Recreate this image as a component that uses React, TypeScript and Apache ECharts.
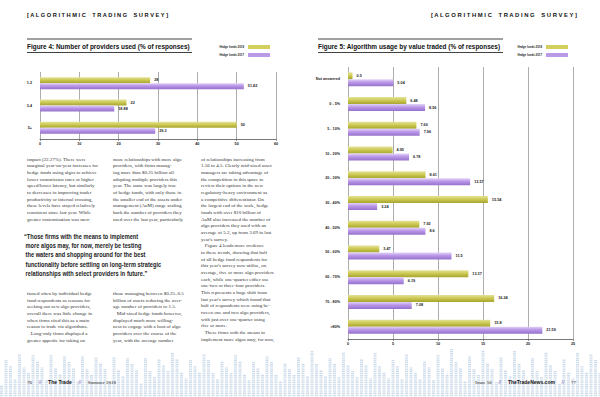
import React, { useEffect, useRef } from "react";
import * as echarts from "echarts";

const fig4Categories = ["1-2", "3-4", "5+"];
const fig4Labels2018 = ["28", "22", "50"];
const fig4Labels2017 = ["51.82", "18.88", "29.3"];
const fig4Ticks = [0, 60, 10];

const fig5Categories = [
  "Not answered", "0 - 5%", "5 - 10%", "10 - 20%", "20 - 30%", "30 - 40%",
  "40 - 50%", "50 - 60%", "60 - 70%", "70 - 80%", ">80%",
];
const fig5Labels2018 = ["0.5", "6.48", "7.60", "4.95", "8.61", "15.54", "7.92", "3.47", "13.37", "16.24", "15.8"];
const fig5Labels2017 = ["5.04", "8.56", "7.96", "6.78", "13.57", "3.24", "8.6", "11.5", "6.19", "7.08", "21.59"];
const fig5Ticks = [0, 25, 5];

const seriesNames = ["Hedge funds 2018", "Hedge funds 2017"];

const col1Top = `impact (22.27%). There were
marginal year-on-year increases for
hedge funds using algos to achieve
lower commission rates or higher
speed/lower latency, but similarly
to decreases in improving trader
productivity or internal crossing,
these levels have stayed relatively
consistent since last year. While
greater customisation was men-`;

const col2Top = `more relationships with more algo
providers, with firms manag-
ing more than $0.25 billion all
adopting multiple providers this
year. The same was largely true
of hedge funds, with only those in
the smaller end of the assets under
management (AuM) range scaling
back the number of providers they
used over the last year, particularly`;

const col3 = `of relationships increasing from
1.56 to 4.5. Clearly mid-sized asset
managers are taking advantage of
the competition in this space to
review their options in the new
regulatory-heavy environment as
a competitive differentiator. On
the largest end of the scale, hedge
funds with over $10 billion of
AuM also increased the number of
algo providers they used with an
average of 5.2, up from 3.69 in last
year's survey.
   Figure 4 lends more credence
to these trends, showing that half
of all hedge fund respondents for
this year's survey now utilise, on
average, five or more algo providers
each, while one-quarter either use
one-two or three-four providers.
This represents a huge shift from
last year's survey which found that
half of respondents were using be-
tween one and two algo providers,
with just over one-quarter using
five or more.
   These firms with the means to
implement more algos may, for now,`;

const quote = `\u201CThose firms with the means to implement
 more algos may, for now, merely be testing
 the waters and shopping around for the best
 functionality before settling on long-term strategic
 relationships with select providers in future.\u201D`;

const col1Bottom = `tioned often by individual hedge
fund respondents as reasons for
seeking out new algo providers,
overall there was little change in
when firms cited this as a main
reason to trade via algorithms.
   Long-only firms displayed a
greater appetite for taking on`;

const col2Bottom = `those managing between $0.25\u20130.5
billion of assets reducing the aver-
age number of providers to 1.5.
   Mid-sized hedge funds however,
displayed much more willing-
ness to engage with a host of algo
providers over the course of the
year, with the average number`;

const SANS = "'Liberation Sans', Arial, sans-serif";
const SERIF = "'Liberation Serif', serif";

function yellowGrad() {
  return new echarts.graphic.LinearGradient(0, 0, 0, 1, [
    { offset: 0, color: "#e4e39a" },
    { offset: 0.45, color: "#cdca55" },
    { offset: 1, color: "#a8a52e" },
  ]);
}
function purpleGrad() {
  return new echarts.graphic.LinearGradient(0, 0, 0, 1, [
    { offset: 0, color: "#e2d2f8" },
    { offset: 0.45, color: "#b996e8" },
    { offset: 1, color: "#9571cc" },
  ]);
}

function barSeries(name: string, labels: string[], axis: number, color: any, width: number) {
  return {
    type: "bar",
    name,
    xAxisIndex: axis,
    yAxisIndex: axis,
    data: labels.map((s) => parseFloat(s)),
    barWidth: width,
    barGap: "0%",
    itemStyle: { color },
    label: {
      show: true,
      position: "right",
      distance: 4,
      fontSize: 3.8,
      fontWeight: "bold",
      fontFamily: SANS,
      color: "#222",
      formatter: (p: any) => labels[p.dataIndex],
    },
  };
}

function xAxisFor(gridIndex: number, ticks: number[]) {
  return {
    type: "value",
    gridIndex,
    min: ticks[0],
    max: ticks[1],
    interval: ticks[2],
    axisLine: { show: true, lineStyle: { color: "#555", width: 0.8 } },
    axisTick: { show: true, length: 2, lineStyle: { color: "#555", width: 0.6 } },
    axisLabel: { fontSize: 3.8, fontWeight: "bold", fontFamily: SANS, color: "#222", margin: 3 },
    splitLine: { show: true, lineStyle: { color: "#8a8a8a", width: 0.7 } },
  };
}

function yAxisFor(gridIndex: number, cats: string[]) {
  return {
    type: "category",
    gridIndex,
    data: cats,
    inverse: true,
    axisLine: { show: false },
    axisTick: { show: false },
    axisLabel: { fontSize: 3.7, fontWeight: "bold", fontFamily: SANS, color: "#222", margin: 8 },
  };
}

function legendBlock(rightX: number, y: number) {
  const els: any[] = [];
  const colors = ["#d2cf5c", "#b99ae6"];
  seriesNames.forEach((n, i) => {
    els.push({
      type: "text",
      x: rightX,
      y: y + i * 8,
      scaleX: 0.8,
      style: { text: n, fontSize: 3.6, fontWeight: "bold", fontFamily: SANS, fill: "#222", align: "right", verticalAlign: "middle" },
    });
    els.push({ type: "rect", shape: { x: rightX + 4, y: y + i * 8 - 2, width: 22, height: 4 }, style: { fill: colors[i] } });
  });
  return els;
}

function bodyText(x: number, y: number, text: string) {
  return {
    type: "text",
    x,
    y,
    style: { text, fontSize: 5, lineHeight: 6.67, fontFamily: SERIF, fill: "#333", verticalAlign: "top" },
  };
}

function patternElements() {
  const els: any[] = [];
  for (let i = 0; i < 134; i++) {
    const h = 12 + ((i * 53) % 31) + ((i * 17) % 7);
    els.push({
      type: "rect",
      shape: { x: i * 4.5, y: 397 - h, width: 3, height: h },
      style: { fill: "#cfdcea" },
      silent: true,
    });
  }
  for (let r = 0; r < 22; r++) {
    els.push({
      type: "rect",
      shape: { x: 0, y: 350 + r * 2.2, width: 600, height: 0.8 },
      style: { fill: "#ffffff" },
      silent: true,
    });
  }
  return els;
}

export default function App() {
  const ref = useRef<HTMLDivElement>(null);
  useEffect(() => {
    if (!ref.current) return;
    const chart = echarts.init(ref.current, undefined, { renderer: "svg" });
    const headerText = "[ A L G O R I T H M I C    T R A D I N G    S U R V E Y ]";
    chart.setOption({
      animation: false,
      backgroundColor: "#ffffff",
      grid: [
        { left: 40, top: 72, width: 236, height: 67 },
        { left: 348, top: 67, width: 225, height: 272 },
      ],
      xAxis: [xAxisFor(0, fig4Ticks), xAxisFor(1, fig5Ticks)],
      yAxis: [yAxisFor(0, fig4Categories), yAxisFor(1, fig5Categories)],
      series: [
        barSeries(seriesNames[0], fig4Labels2018, 0, yellowGrad(), 6),
        barSeries(seriesNames[1], fig4Labels2017, 0, purpleGrad(), 6),
        barSeries(seriesNames[0], fig5Labels2018, 1, yellowGrad(), 7),
        barSeries(seriesNames[1], fig5Labels2017, 1, purpleGrad(), 7),
      ],
      graphic: [
        ...patternElements(),
        { type: "text", x: 27, y: 15, style: { text: headerText, fontSize: 5.7, fontWeight: "bold", fontFamily: SANS, fill: "#111", verticalAlign: "middle" } },
        { type: "text", x: 577, y: 15, style: { text: headerText, fontSize: 5.9, fontWeight: "bold", fontFamily: SANS, fill: "#111", align: "right", verticalAlign: "middle" } },
        { type: "line", shape: { x1: 27, y1: 39, x2: 192, y2: 39 }, style: { stroke: "#111", lineWidth: 0.8 } },
        { type: "line", shape: { x1: 27, y1: 52.5, x2: 192, y2: 52.5 }, style: { stroke: "#111", lineWidth: 0.8 } },
        { type: "text", x: 27, y: 46, scaleX: 0.92, style: { text: "Figure 4: Number of providers used (% of responses)", fontSize: 7, fontWeight: "bold", fontFamily: SANS, fill: "#111", verticalAlign: "middle" } },
        { type: "line", shape: { x1: 318, y1: 39, x2: 503, y2: 39 }, style: { stroke: "#111", lineWidth: 0.8 } },
        { type: "line", shape: { x1: 318, y1: 52.5, x2: 503, y2: 52.5 }, style: { stroke: "#111", lineWidth: 0.8 } },
        { type: "text", x: 318, y: 46, scaleX: 0.92, style: { text: "Figure 5: Algorithm usage by value traded (% of responses)", fontSize: 7, fontWeight: "bold", fontFamily: SANS, fill: "#111", verticalAlign: "middle" } },
        ...legendBlock(244, 47),
        ...legendBlock(542, 47),
        bodyText(27, 155.7, col1Top),
        bodyText(113, 155.7, col2Top),
        bodyText(201, 155.7, col3),
        { type: "text", x: 24, y: 232, scaleX: 0.9, style: { text: quote, fontSize: 6.3, lineHeight: 9.3, fontWeight: "bold", fontFamily: SANS, fill: "#222", verticalAlign: "top" } },
        bodyText(27, 290, col1Bottom),
        bodyText(113, 290, col2Bottom),
        {
          type: "text", x: 27, y: 382,
          style: {
            text: "{n|76}  {s|//}  {b|The Trade}  {s|//}  {n|Summer 2018}",
            verticalAlign: "middle",
            rich: {
              n: { fontSize: 5, fontFamily: SERIF, fill: "#222" },
              s: { fontSize: 5, fontFamily: SANS, fill: "#7a5ab8" },
              b: { fontSize: 5, fontWeight: "bold", fontFamily: SANS, fill: "#111" },
            },
          },
        },
        {
          type: "text", x: 576, y: 382,
          style: {
            text: "{n|Issue 56}  {s|//}  {b|TheTradeNews.com}  {s|//}  {n|77}",
            align: "right",
            verticalAlign: "middle",
            rich: {
              n: { fontSize: 5, fontFamily: SERIF, fill: "#222" },
              s: { fontSize: 5, fontFamily: SANS, fill: "#7a5ab8" },
              b: { fontSize: 5, fontWeight: "bold", fontFamily: SANS, fill: "#111" },
            },
          },
        },
      ],
    });
    return () => chart.dispose();
  }, []);
  return <div ref={ref} style={{ position: "absolute", left: 0, top: 0, width: 600, height: 397 }} />;
}
